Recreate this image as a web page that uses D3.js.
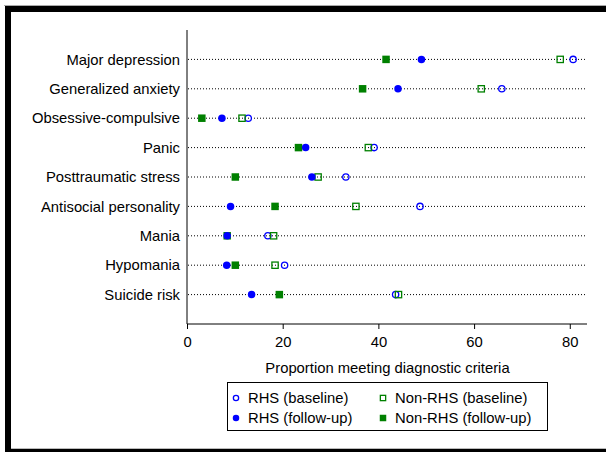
<!DOCTYPE html>
<html>
<head>
<meta charset="utf-8">
<script src="https://cdn.jsdelivr.net/npm/d3@7"></script>
<style>
  body { margin: 0; background: #fff; }
  svg { display: block; font-family: "Liberation Sans", Arial, sans-serif; }
</style>
</head>
<body>
<svg id="chart" width="606" height="452"></svg>
<script>
// categories, top to bottom
const categories = ["Major depression", "Generalized anxiety", "Obsessive-compulsive", "Panic",
  "Posttraumatic stress", "Antisocial personality", "Mania", "Hypomania", "Suicide risk"];

// values (percent)
const rhsBaseline     = [80.7, 65.8, 12.8, 39.1, 33.2, 48.7, 16.9, 20.4, 43.6];
const rhsFollowup     = [49.0, 44.1,  7.3, 24.8, 26.1,  9.1,  8.4,  8.3, 13.5];
const nonRhsBaseline  = [78.0, 61.5, 11.5, 37.9, 27.4, 35.3, 18.1, 18.4, 44.2];
const nonRhsFollowup  = [41.6, 36.7,  3.1, 23.3, 10.1, 18.4,  8.4, 10.1, 19.3];

const xTicks = [0, 20, 40, 60, 80];
const xTitle = "Proportion meeting diagnostic criteria";

const blue = "#0000ff", green = "#008000";
const fontSize = 14.8;

const series = [
  {name: "RHS (baseline)", values: rhsBaseline, shape: "circle", filled: false, color: blue},
  {name: "Non-RHS (baseline)", values: nonRhsBaseline, shape: "square", filled: false, color: green},
  {name: "Non-RHS (follow-up)", values: nonRhsFollowup, shape: "square", filled: true, color: green},
  {name: "RHS (follow-up)", values: rhsFollowup, shape: "circle", filled: true, color: blue}
];
// legend order: column-wise like the original
const legendOrder = [
  ["RHS (baseline)", "Non-RHS (baseline)"],
  ["RHS (follow-up)", "Non-RHS (follow-up)"]
];

const svg = d3.select("#chart");

// frame of the cropped picture
svg.append("rect").attr("x", 4).attr("y", 5).attr("width", 602).attr("height", 1).attr("fill", "#aaa");
svg.append("rect").attr("x", 5).attr("y", 6).attr("width", 601).attr("height", 6).attr("fill", "#000");
svg.append("rect").attr("x", 5).attr("y", 6).attr("width", 6).attr("height", 446).attr("fill", "#000");
svg.append("rect").attr("x", 11).attr("y", 448).attr("width", 595).attr("height", 1).attr("fill", "#bbb");
svg.append("rect").attr("x", 11).attr("y", 449).attr("width", 595).attr("height", 3).attr("fill", "#000");

const plotLeft = 187, plotRight = 587, plotTop = 30, plotBottom = 324;

const x = d3.scaleLinear().domain([0, 83.6]).range([plotLeft, plotRight]);
const y = d3.scalePoint().domain(categories).range([plotTop, plotBottom]).padding(1);

// dotted guide lines
svg.append("g").selectAll("line").data(categories).join("line")
  .attr("x1", plotLeft + 1).attr("x2", plotRight)
  .attr("y1", d => y(d)).attr("y2", d => y(d))
  .attr("stroke", "#000").attr("stroke-width", 1)
  .attr("stroke-dasharray", "1,2");

// y axis
const yAxis = svg.append("g").attr("transform", `translate(${plotLeft},0)`)
  .call(d3.axisLeft(y).tickSize(0).tickPadding(7));
yAxis.select(".domain").attr("d", `M0,${plotTop}V${plotBottom}`).attr("stroke", "#000");
yAxis.selectAll("text").attr("font-size", fontSize).attr("fill", "#000")
  .attr("font-family", "Liberation Sans, Arial, sans-serif");

// x axis
const xAxis = svg.append("g").attr("transform", `translate(0,${plotBottom})`)
  .call(d3.axisBottom(x).tickValues(xTicks).tickSize(5).tickPadding(7).tickFormat(d3.format("d")));
xAxis.select(".domain").attr("d", `M${plotLeft},0H${plotRight}`).attr("stroke", "#000");
xAxis.selectAll("text").attr("font-size", fontSize).attr("fill", "#000")
  .attr("font-family", "Liberation Sans, Arial, sans-serif");

svg.append("text").attr("x", 387.5).attr("y", 373)
  .attr("text-anchor", "middle").attr("font-size", fontSize).text(xTitle);

function drawMarker(sel, s, cx, cy, size) {
  if (s.shape === "circle") {
    const r = s.filled ? size / 2 : size / 2 - 0.6;
    sel.append("circle").attr("cx", cx).attr("cy", cy).attr("r", r)
      .attr("fill", s.filled ? s.color : "none")
      .attr("stroke", s.filled ? "none" : s.color).attr("stroke-width", 1.3);
  } else {
    const h = s.filled ? size / 2 : size / 2 - 0.6;
    sel.append("rect").attr("x", cx - h).attr("y", cy - h)
      .attr("width", 2 * h).attr("height", 2 * h)
      .attr("fill", s.filled ? s.color : "none")
      .attr("stroke", s.filled ? "none" : s.color).attr("stroke-width", 1.3);
  }
}

// points
series.forEach(s => {
  const g = svg.append("g");
  s.values.forEach((v, i) => drawMarker(g, s, x(v), y(categories[i]), 7.5));
});

// legend
const lg = svg.append("g");
lg.append("rect").attr("x", 227.5).attr("y", 382.5).attr("width", 320).attr("height", 48)
  .attr("fill", "#fff").attr("stroke", "#000").attr("stroke-width", 1);
const colX = [236, 383], rowY = [398, 418];
legendOrder.forEach((row, ri) => row.forEach((name, ci) => {
  const s = series.find(d => d.name === name);
  drawMarker(lg, s, colX[ci], rowY[ri], 6.5);
  lg.append("text").attr("x", colX[ci] + 12).attr("y", rowY[ri]).attr("dy", "0.35em")
    .attr("font-size", fontSize).text(name);
}));
</script>
</body>
</html>
